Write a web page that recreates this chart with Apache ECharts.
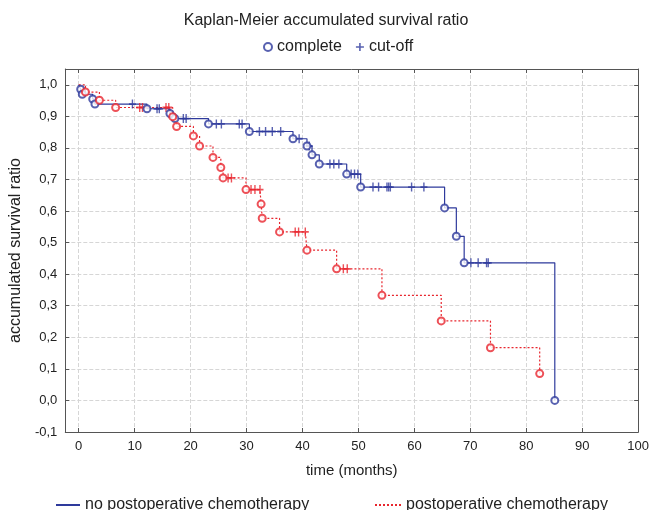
<!DOCTYPE html>
<html>
<head>
<meta charset="utf-8">
<script src="https://cdn.jsdelivr.net/npm/echarts@6/dist/echarts.min.js"></script>
<style>
html, body { margin: 0; padding: 0; background: #fff; }
#main { width: 652px; height: 510px; }
</style>
</head>
<body>
<div id="main"></div>
<script>
// tick labels
var xTicks = [0, 10, 20, 30, 40, 50, 60, 70, 80, 90, 100];
var yTicks = [-0.1, 0, 0.1, 0.2, 0.3, 0.4, 0.5, 0.6, 0.7, 0.8, 0.9, 1.0];

// no postoperative chemotherapy: [months, survival]
var noChemoEvents = [
    [0.35, 0.986], [0.64, 0.970], [2.5, 0.955], [2.9, 0.939], [12.2, 0.924],
    [16.3, 0.909], [17.2, 0.893], [23.2, 0.876], [30.5, 0.852], [38.3, 0.829],
    [40.8, 0.806], [41.7, 0.778], [43.0, 0.749], [47.9, 0.717], [50.4, 0.676],
    [65.4, 0.610], [67.5, 0.520], [68.9, 0.436], [85.1, 0.0]
];
var noChemoCensored = [
    [9.6, 0.939], [14.0, 0.924], [14.4, 0.924], [18.7, 0.893], [19.2, 0.893],
    [24.6, 0.876], [25.5, 0.876], [28.7, 0.876], [29.2, 0.876],
    [32.3, 0.852], [33.4, 0.852], [34.6, 0.852], [36.1, 0.852],
    [39.4, 0.829], [41.2, 0.806], [44.9, 0.749], [45.6, 0.749], [46.5, 0.749],
    [48.7, 0.717], [49.3, 0.717], [49.9, 0.717],
    [52.6, 0.676], [53.6, 0.676], [55.1, 0.676], [55.4, 0.676], [55.7, 0.676],
    [59.5, 0.676], [61.7, 0.676],
    [70.1, 0.436], [71.4, 0.436], [72.9, 0.436], [73.2, 0.436]
];

// postoperative chemotherapy
var chemoEvents = [
    [1.2, 0.977], [3.7, 0.951], [6.6, 0.928], [16.8, 0.899], [17.5, 0.868],
    [20.5, 0.838], [21.6, 0.806], [24.0, 0.770], [25.4, 0.738], [25.8, 0.705],
    [29.9, 0.668], [32.6, 0.622], [32.8, 0.577], [35.9, 0.534], [40.8, 0.476],
    [46.1, 0.417], [54.2, 0.333], [64.8, 0.252], [73.6, 0.167], [82.4, 0.085]
];
var chemoCensored = [
    [10.9, 0.928], [11.4, 0.928], [15.6, 0.928], [16.1, 0.928],
    [26.7, 0.705], [27.3, 0.705], [30.8, 0.668], [31.5, 0.668], [32.4, 0.668],
    [38.7, 0.534], [39.3, 0.534], [40.5, 0.534], [47.3, 0.417], [48.0, 0.417]
];

var blue = '#2e3a9c';
var red = '#e8262e';
var plusPath = 'path://M4,0h2v10h-2zM0,4h10v2h-10z';
var font = 'Liberation Sans, Arial, sans-serif';

// step curve from [0,1] through all events and cut-offs
function curve(events, censored) {
    var pts = [[0, 1]].concat(events, censored);
    pts.sort(function (a, b) { return a[0] - b[0]; });
    return pts;
}

function yFmt(v) {
    return v.toFixed(1).replace('.', ',');
}

var axisLine = { show: true, onZero: false, lineStyle: { color: '#555', width: 1 } };
function ticks(vals) {
    return { show: true, inside: true, length: 4, lineStyle: { color: '#555' }, customValues: vals };
}
var gridLine = { show: true, lineStyle: { color: '#d6d6d6', type: 'dashed' } };

var option = {
    backgroundColor: '#fff',
    animation: false,
    textStyle: { fontFamily: font },
    title: {
        text: 'Kaplan-Meier accumulated survival ratio',
        left: 'center',
        top: 8,
        textStyle: { fontSize: 16, fontWeight: 'normal', color: '#222', fontFamily: font }
    },
    legend: [{
        top: 34,
        left: 258,
        itemGap: 14,
        itemWidth: 8,
        itemHeight: 8,
        textStyle: { fontSize: 16, color: '#222', fontFamily: font },
        data: ['complete', 'cut-off']
    }, {
        top: 492,
        left: 50,
        itemWidth: 24,
        itemHeight: 10,
        textStyle: { fontSize: 16, color: '#222', fontFamily: font },
        data: [{ name: 'no postoperative chemotherapy', itemStyle: { opacity: 0 } }]
    }, {
        top: 492,
        left: 369,
        itemWidth: 26,
        itemHeight: 10,
        textStyle: { fontSize: 16, color: '#222', fontFamily: font },
        data: [{ name: 'postoperative chemotherapy', itemStyle: { opacity: 0 } }]
    }],
    grid: { left: 62, right: 10, top: 69, bottom: 78, containLabel: false },
    xAxis: [{
        type: 'value',
        min: -2.4,
        max: 100,
        splitNumber: 10,
        name: 'time (months)',
        nameLocation: 'middle',
        nameGap: 31,
        nameTextStyle: { fontSize: 15, color: '#222', fontFamily: font },
        axisLine: axisLine,
        axisTick: ticks(xTicks),
        axisLabel: { customValues: xTicks, fontSize: 13, color: '#222', margin: 8, fontFamily: font },
        splitLine: gridLine
    }, {
        type: 'value',
        position: 'top',
        min: -2.4,
        max: 100,
        splitNumber: 10,
        axisLine: axisLine,
        axisTick: ticks(xTicks),
        axisLabel: { show: false },
        splitLine: { show: false }
    }],
    yAxis: [{
        type: 'value',
        min: -0.1,
        max: 1.05,
        interval: 0.1,
        name: 'accumulated survival ratio',
        nameLocation: 'middle',
        nameGap: 37,
        nameTextStyle: { fontSize: 16, color: '#222', fontFamily: font },
        axisLine: axisLine,
        axisTick: ticks(yTicks),
        axisLabel: { customValues: yTicks, fontSize: 13, color: '#222', margin: 8, fontFamily: font, formatter: yFmt },
        splitLine: gridLine
    }, {
        type: 'value',
        position: 'right',
        min: -0.1,
        max: 1.05,
        interval: 0.1,
        axisLine: axisLine,
        axisTick: ticks(yTicks),
        axisLabel: { show: false },
        splitLine: { show: false }
    }],
    series: [{
        name: 'no postoperative chemotherapy',
        type: 'line',
        step: 'end',
        symbol: 'none',
        color: blue,
        lineStyle: { color: blue, width: 1.2 },
        data: curve(noChemoEvents, noChemoCensored),
        z: 2
    }, {
        name: 'postoperative chemotherapy',
        type: 'line',
        step: 'end',
        symbol: 'none',
        color: red,
        lineStyle: { color: red, width: 1.2, type: [2, 2] },
        data: curve(chemoEvents, chemoCensored),
        z: 2
    }, {
        name: 'complete',
        type: 'scatter',
        symbol: 'emptyCircle',
        symbolSize: 7,
        itemStyle: { color: blue, borderColor: blue, borderWidth: 1.5 },
        data: noChemoEvents,
        z: 4
    }, {
        name: 'complete',
        type: 'scatter',
        symbol: 'emptyCircle',
        symbolSize: 7,
        itemStyle: { color: red, borderColor: red, borderWidth: 1.5 },
        data: chemoEvents,
        z: 4
    }, {
        name: 'cut-off',
        type: 'scatter',
        symbol: plusPath,
        symbolSize: [7, 9],
        symbolKeepAspect: false,
        itemStyle: { color: blue },
        data: noChemoCensored,
        z: 3
    }, {
        name: 'cut-off',
        type: 'scatter',
        symbol: plusPath,
        symbolSize: [7, 9],
        symbolKeepAspect: false,
        itemStyle: { color: red },
        data: chemoCensored,
        z: 3
    }]
};

var chart = echarts.init(document.getElementById('main'));
chart.setOption(option);
</script>
</body>
</html>
